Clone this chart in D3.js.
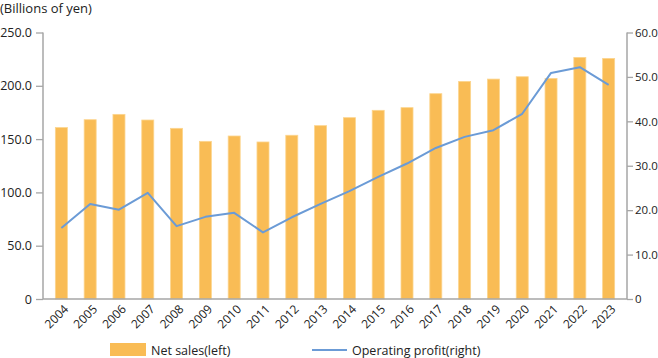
<!DOCTYPE html>
<html><head><meta charset="utf-8">
<script src="https://cdn.jsdelivr.net/npm/d3@7"></script>
<style>
body{margin:0;background:#fff;}
text{font-family:"Open Sans","Noto Sans",sans-serif;fill:#222;}
</style></head>
<body><svg id="c" width="658" height="358"></svg>
<script>
const years = ["2004","2005","2006","2007","2008","2009","2010","2011","2012","2013","2014","2015","2016","2017","2018","2019","2020","2021","2022","2023"];
const netSales = [160.8,168.2,173.2,167.9,160.1,147.9,152.9,147.3,153.6,162.6,170.1,177.0,179.5,192.6,204.1,206.3,208.5,206.9,226.6,225.7];
const operatingProfit = [16.0,21.4,20.1,23.9,16.4,18.5,19.4,15.0,18.4,21.4,24.3,27.5,30.5,34.0,36.5,38.0,41.7,50.9,52.2,48.2];
const leftTicks = [0,50,100,150,200,250];
const rightTicks = [0,10,20,30,40,50,60];
const unitLabel = "(Billions of yen)";
const legendBar = "Net sales(left)";
const legendLine = "Operating profit(right)";

const svg = d3.select("#c");
const L = 43, R = 627, T = 32.5, B = 299;
const x = d3.scaleBand().domain(years).range([47, 623]).paddingInner(0.583).paddingOuter(0.29);
const yL = d3.scaleLinear().domain([0,250]).range([B,T]);
const yR = d3.scaleLinear().domain([0,60]).range([B,T]);
const axisColor = "#a6a6a6";
const fmt = v => v === 0 ? "0" : d3.format(".1f")(v);
const ff = '"Open Sans","Noto Sans",sans-serif';

// bars
svg.append("g").selectAll("rect").data(netSales).join("rect")
  .attr("x",(d,i)=>x(years[i])).attr("width",x.bandwidth())
  .attr("y",d=>yL(d)).attr("height",d=>B-yL(d))
  .attr("fill","#F9BC55").attr("stroke","#FCD58E").attr("stroke-width",0.8);

// line
const line = d3.line().x((d,i)=>x(years[i])+x.bandwidth()/2).y(d=>yR(d));
svg.append("path").datum(operatingProfit).attr("d",line)
  .attr("fill","none").attr("stroke","#6B9BD6").attr("stroke-width",2).attr("stroke-linejoin","round");

// left axis
const gl = svg.append("g").attr("transform",`translate(${L},0)`)
  .call(d3.axisLeft(yL).tickValues(leftTicks).tickFormat(fmt).tickSize(7).tickPadding(4));
// right axis
const gr = svg.append("g").attr("transform",`translate(${R},0)`)
  .call(d3.axisRight(yR).tickValues(rightTicks).tickFormat(fmt).tickSize(6).tickPadding(2));
[gl,gr].forEach(g=>{
  g.select(".domain").attr("stroke",axisColor).attr("stroke-width",1.5).attr("d",`M0,${T}V${B}`);
  g.selectAll(".tick line").attr("stroke",axisColor).attr("stroke-width",1.3);
  g.selectAll(".tick text").attr("fill","#222").attr("font-family",ff);
});
gl.selectAll(".tick text").attr("font-size",12.5);
gr.selectAll(".tick text").attr("font-size",11.5);
// bottom axis
const gb = svg.append("g").attr("transform",`translate(0,${B})`)
  .call(d3.axisBottom(x).tickSize(0).tickPadding(0));
gb.select(".domain").attr("stroke",axisColor).attr("stroke-width",1.5).attr("d",`M${L},0H${R}`);
gb.selectAll(".tick text").attr("font-size",12).attr("fill","#222")
  .attr("font-family",ff)
  .attr("text-anchor","end").attr("dy",0)
  .attr("transform","translate(5,8) rotate(-45)")
  .attr("y",4).attr("x",0);

// unit label
svg.append("text").attr("x",0).attr("y",13).attr("font-size",13).text(unitLabel);

// legend
svg.append("rect").attr("x",110).attr("y",343).attr("width",36).attr("height",13).attr("fill","#F9BC55");
svg.append("text").attr("x",151).attr("y",355).attr("font-size",12.5).text(legendBar);
svg.append("line").attr("x1",312).attr("x2",347).attr("y1",350).attr("y2",350).attr("stroke","#6B9BD6").attr("stroke-width",2);
svg.append("text").attr("x",352).attr("y",355).attr("font-size",12.5).text(legendLine);
</script></body></html>
